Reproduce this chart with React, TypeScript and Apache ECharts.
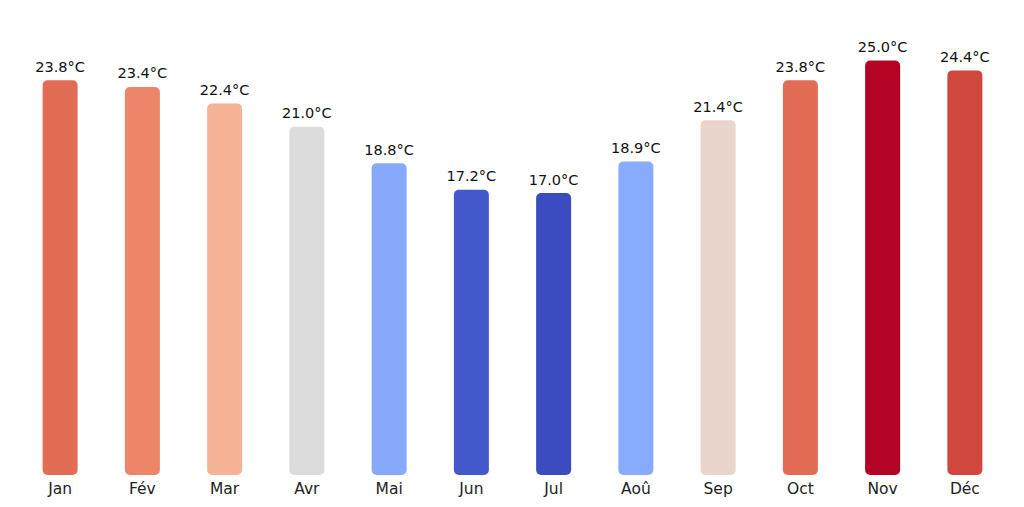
import React, { useEffect, useRef } from "react";
import * as echarts from "echarts";

const months = ["Jan", "Fév", "Mar", "Avr", "Mai", "Jun", "Jul", "Aoû", "Sep", "Oct", "Nov", "Déc"];
const temps = [23.8, 23.4, 22.4, 21.0, 18.8, 17.2, 17.0, 18.9, 21.4, 23.8, 25.0, 24.4];
const barColors = [
  "#e36c55", "#ee8468", "#f6b396", "#dddcdc", "#86a9fc", "#4358cb",
  "#3b4cc0", "#88abfd", "#e9d5cb", "#e36c55", "#b40426", "#d0473d",
];

export default function App() {
  const ref = useRef<HTMLDivElement>(null);
  useEffect(() => {
    if (!ref.current) return;
    const chart = echarts.init(ref.current, undefined, { renderer: "svg" });
    chart.setOption({
      animation: false,
      backgroundColor: "#ffffff",
      grid: { left: 19, right: 18, top: 19, bottom: 32, containLabel: false },
      xAxis: {
        type: "category",
        data: months,
        axisLine: { show: false },
        axisTick: { show: false },
        axisLabel: {
          color: "#222",
          fontSize: 15.5,
          fontFamily: "DejaVu Sans",
          margin: 6,
        },
      },
      yAxis: {
        type: "value",
        min: 0,
        max: 27.5,
        show: false,
        splitLine: { show: false },
      },
      series: [
        {
          type: "bar",
          barWidth: 35,
          data: temps.map((v, i) => ({
            value: v,
            itemStyle: { color: barColors[i], borderRadius: 5 },
          })),
          label: {
            show: true,
            position: "top",
            distance: 6,
            formatter: (p: any) => p.value.toFixed(1) + "°C",
            color: "#111",
            fontSize: 14.5,
            fontFamily: "DejaVu Sans",
          },
        },
      ],
    });
    return () => chart.dispose();
  }, []);
  return <div ref={ref} style={{ width: 1024, height: 507, position: "absolute", left: 0, top: 0 }} />;
}
